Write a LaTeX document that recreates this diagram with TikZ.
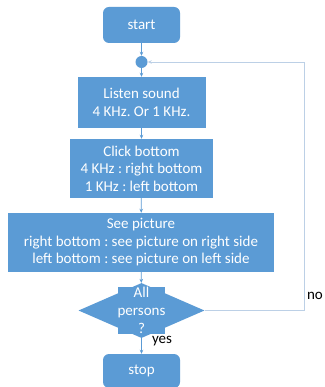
\documentclass[tikz,border=0pt]{standalone}
\usepackage{fontspec}
\setmainfont{Carlito}
\usetikzlibrary{shapes.geometric,arrows.meta}
\frenchspacing

\definecolor{boxblue}{RGB}{91,155,213}
\definecolor{loopblue}{RGB}{188,208,230}

\tikzset{
	flowbox/.style={draw=none, fill=boxblue, text=white, align=center, inner sep=0pt, font=\fontsize{15}{17.5}\selectfont},
	termbox/.style={flowbox, rounded corners=6pt, minimum width=77pt, minimum height=36pt},
	decision/.style={diamond, fill=boxblue, draw=none, inner sep=0pt, minimum width=126pt, minimum height=55pt},
	flowarrow/.style={-{Stealth[length=4pt,width=3.5pt]}, draw=boxblue, line width=0.8pt},
	tag/.style={font=\fontsize{15}{17}\selectfont, text=black, inner sep=0pt}
}

\begin{document}
\begin{tikzpicture}[x=1pt, y=-1pt]
			%%%%% START %%%%%
			\useasboundingbox[fill=white] (0, 0) rectangle (324, 387);
			
			\node[termbox] (start) at (141.5, 25) {start};
			\node[circle, fill=boxblue, inner sep=0pt, minimum size=12pt] (join) at (141.5, 62) {};
			
			\node[flowbox, minimum width=128pt, minimum height=51pt] (listen) at (141.5, 102.5) {Listen sound\\4 KHz. Or 1 KHz.};
			\node[flowbox, minimum width=143pt, minimum height=59pt] (click) at (141.5, 168.5) {Click bottom\\4 KHz : right bottom\\1 KHz : left bottom};
			\node[flowbox, minimum width=266pt, minimum height=59pt] (see) at (141, 242.5) {See picture\\right bottom : see picture on right side\\left bottom : see picture on left side};
			
			\node[decision] (check) at (141.5, 310.5) {};
			\node[flowbox, font=\fontsize{15}{18}\selectfont] (checktext) at (check.center) {All\\persons\\?};
			
			\node[termbox, minimum height=34pt] (stop) at (141.5, 371) {stop};
			
			% main line
			\draw[flowarrow] (start) -- (join);
			\draw[flowarrow] (join) -- (listen);
			\draw[flowarrow] (listen) -- (click);
			\draw[flowarrow] (click) -- (see);
			\draw[flowarrow] (see) -- (check);
			\draw[flowarrow] (check) -- (stop);
			
			% back to the join point
			\coordinate (turn) at (304, 310.5);
			\draw[flowarrow, draw=loopblue] (check.east) -- (turn) |- (join.east);
			
			\node[tag] (no) at (315, 296) {no};
			\node[tag] (yes) at (162, 341) {yes};
			%%%%% END %%%%%
\end{tikzpicture}
\end{document}
